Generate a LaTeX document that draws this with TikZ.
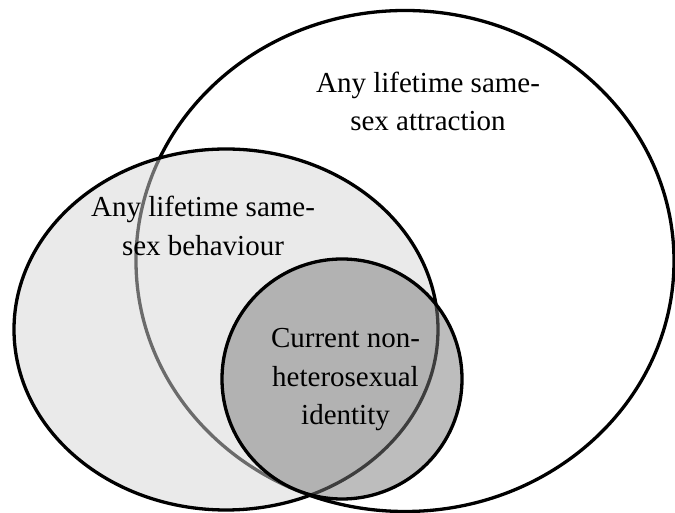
\documentclass[tikz,border=0pt]{standalone}
\usepackage{fontspec}
\setmainfont{Liberation Serif}
\definecolor{behfill}{RGB}{214,214,214}
\definecolor{idfill}{RGB}{123,123,123}
\begin{document}
\begin{tikzpicture}[x=1pt,y=1pt,
  setline/.style={line width=3.3pt, draw=black},
  lbl/.style={font=\fontsize{29}{38.5}\selectfont, align=center, inner sep=0pt, text=black}]
\useasboundingbox (0,0) rectangle (675,513);
% Any lifetime same-sex attraction
\draw[setline] (405,252) ellipse [x radius=269, y radius=250.5];
% Any lifetime same-sex behaviour
\draw[setline, fill=behfill, fill opacity=0.5] (226,183.5) ellipse [x radius=212, y radius=180.5];
% Current non-heterosexual identity
\draw[setline, fill=idfill, fill opacity=0.5] (342,134) circle [radius=120];
\node[lbl] (attraction) at (428,409.2) {\strut Any lifetime same-\\\strut sex attraction};
\node[lbl] (behaviour) at (203,284.7) {\strut Any lifetime same-\\\strut sex behaviour};
\node[lbl] (identity) at (345.5,134.2) {\strut Current non-\\\strut heterosexual\\\strut identity};
\end{tikzpicture}
\end{document}
